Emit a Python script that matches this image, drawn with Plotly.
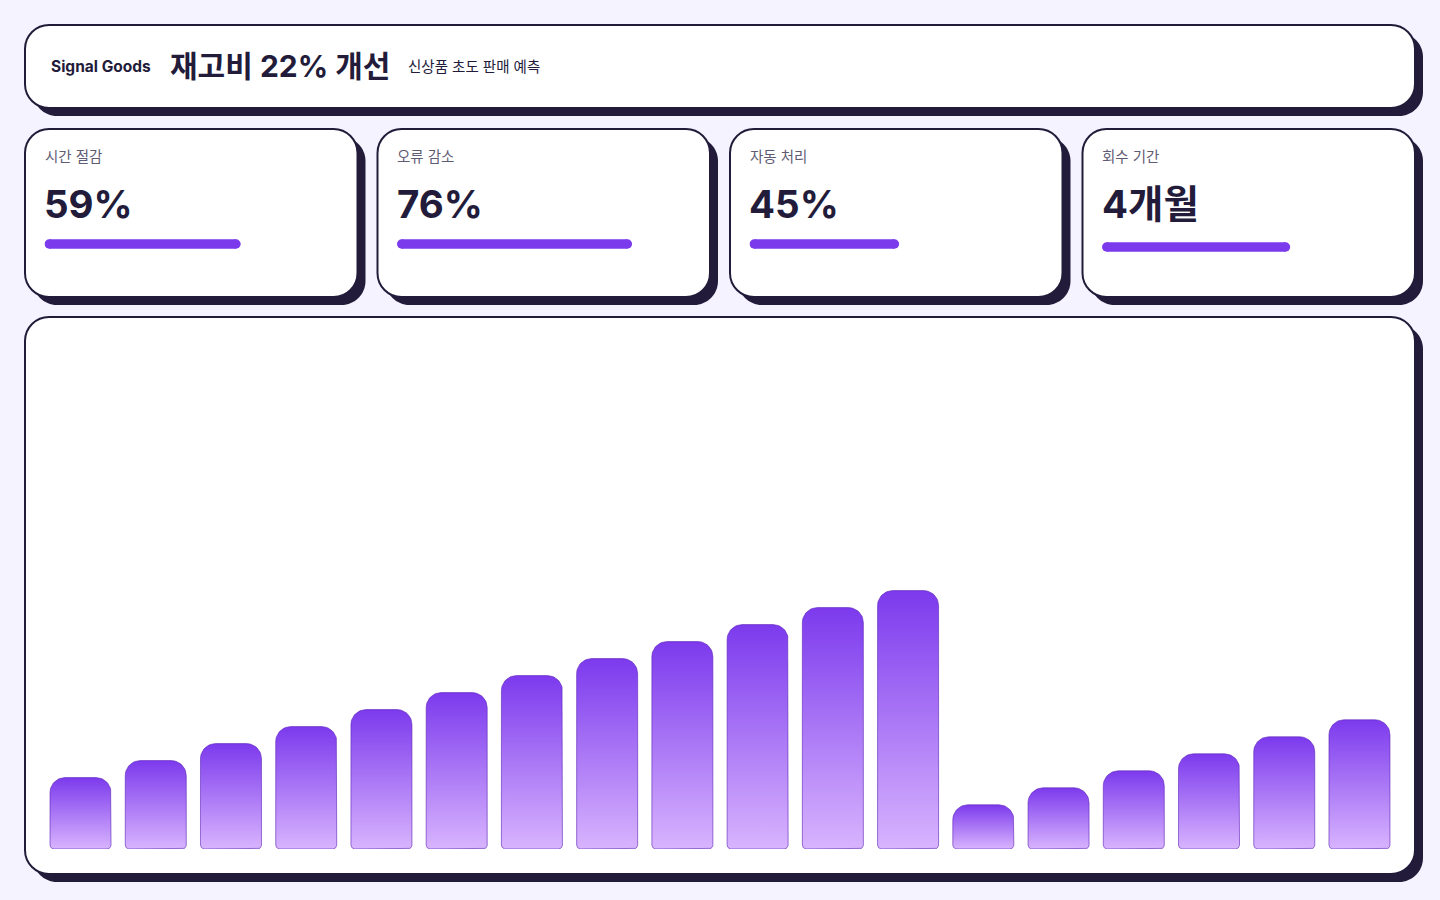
import math
import plotly.graph_objects as go

# ---------------- data ----------------
brand = "Signal Goods"
headline = "재고비 22% 개선"
subtitle = "신상품 초도 판매 예측"

kpi_labels = ["시간 절감", "오류 감소", "자동 처리", "회수 기간"]
kpi_values = ["59%", "76%", "45%", "4개월"]
kpi_progress = [0.59, 0.707, 0.45, 0.566]   # share of card width filled by the progress bar

periods = [f"W{i}" for i in range(1, 19)]
sales = [42, 52, 62, 72, 82, 92, 102, 112, 122, 132, 142, 152, 26, 36, 46, 56, 66, 76]

# ---------------- style / layout constants ----------------
W, H = 1440, 900
BG = "#f5f3ff"
INK = "#221c3a"
MUTED = "#5f5b73"
VIOLET = "#7c3aed"
LILAC = "#d8b4fe"
FONT = "Inter, 'Noto Sans CJK KR', 'Noto Sans', sans-serif"


def X(px):
    return px / W


def Y(py):
    return 1 - py / H


def rrect_path(x0, y0, x1, y1, r):
    k = 0.5523 * r
    P = lambda x, y: f"{X(x):.6f},{Y(y):.6f}"
    return (
        f"M{P(x0 + r, y0)} L{P(x1 - r, y0)} "
        f"C{P(x1 - r + k, y0)} {P(x1, y0 + r - k)} {P(x1, y0 + r)} "
        f"L{P(x1, y1 - r)} "
        f"C{P(x1, y1 - r + k)} {P(x1 - r + k, y1)} {P(x1 - r, y1)} "
        f"L{P(x0 + r, y1)} "
        f"C{P(x0 + r - k, y1)} {P(x0, y1 - r + k)} {P(x0, y1 - r)} "
        f"L{P(x0, y0 + r)} "
        f"C{P(x0, y0 + r - k)} {P(x0 + r - k, y0)} {P(x0 + r, y0)} Z"
    )


shapes = []


def card(x0, y0, x1, y1, r=24, off=8):
    shapes.append(dict(type="path", xref="paper", yref="paper", layer="below",
                       path=rrect_path(x0 + off, y0 + off, x1 + off, y1 + off, r),
                       fillcolor=INK, line=dict(width=0)))
    shapes.append(dict(type="path", xref="paper", yref="paper", layer="below",
                       path=rrect_path(x0, y0, x1, y1, r),
                       fillcolor="#ffffff", line=dict(width=2, color=INK)))


# header card
card(25, 25, 1415, 108)
# KPI cards
CARD_W = 332.5
kpi_x0 = [25 + i * 352.5 for i in range(4)]
for x0 in kpi_x0:
    card(x0, 129, x0 + CARD_W, 297)
# chart card
card(25, 317, 1415, 874)

fig = go.Figure()

# ---------------- main bar chart (gradient, rounded bars) ----------------
PLOT_L, PLOT_R = 42.9, 1397.1
PLOT_B, PLOT_T = 849, 339
Y_MAX = 300
PX_X = (PLOT_R - PLOT_L) / len(sales)
PX_Y = (PLOT_B - PLOT_T) / Y_MAX


def bar_outline(i, v, half_w_px=30.5, r_top=15, r_bot=4, n=14):
    hw = half_w_px / PX_X
    rt = min(r_top, v * PX_Y / 2)
    rtx, rty = rt / PX_X, rt / PX_Y
    rbx, rby = r_bot / PX_X, r_bot / PX_Y
    xs, ys = [], []

    def arc(cx, cy, rx, ry, a0, a1):
        for t in range(n + 1):
            a = a0 + (a1 - a0) * t / n
            xs.append(cx + rx * math.cos(a))
            ys.append(cy + ry * math.sin(a))

    L, R = i - hw, i + hw
    arc(L + rbx, rby, rbx, rby, math.pi, 1.5 * math.pi)
    arc(R - rbx, rby, rbx, rby, 1.5 * math.pi, 2 * math.pi)
    arc(R - rtx, v - rty, rtx, rty, 0, 0.5 * math.pi)
    arc(L + rtx, v - rty, rtx, rty, 0.5 * math.pi, math.pi)
    xs.append(xs[0])
    ys.append(ys[0])
    return xs, ys


for i, (p, v) in enumerate(zip(periods, sales)):
    xs, ys = bar_outline(i, v)
    fig.add_trace(go.Scatter(
        x=xs, y=ys, mode="lines", fill="toself", name=p,
        line=dict(color="rgba(91,33,182,0.6)", width=1),
        fillgradient=dict(type="vertical", colorscale=[[0, LILAC], [1, VIOLET]]),
        hoverinfo="skip", showlegend=False,
        xaxis="x", yaxis="y",
    ))

# ---------------- KPI progress bars ----------------
BAR_H = 9.5
kpi_cy = [244, 244, 244, 247]
axes_layout = {}
for k, (x0, f, cy) in enumerate(zip(kpi_x0, kpi_progress, kpi_cy)):
    ax = k + 2
    L = x0 + 19.5
    rr = (BAR_H / 2) / CARD_W
    fig.add_trace(go.Scatter(
        x=[rr, f - rr], y=[0, 0], mode="lines+markers",
        line=dict(color=VIOLET, width=BAR_H),
        marker=dict(color=VIOLET, size=BAR_H, line=dict(width=0)),
        hoverinfo="skip", showlegend=False,
        xaxis=f"x{ax}", yaxis=f"y{ax}",
    ))
    axes_layout[f"xaxis{ax}"] = dict(domain=[X(L), X(L + CARD_W)], range=[0, 1],
                                     visible=False, fixedrange=True, anchor=f"y{ax}")
    axes_layout[f"yaxis{ax}"] = dict(domain=[Y(cy + 12), Y(cy - 12)], range=[-1, 1],
                                     visible=False, fixedrange=True, anchor=f"x{ax}")

# ---------------- text ----------------
annotations = []


def text(x, y, s, size, color=INK, weight=400):
    annotations.append(dict(x=X(x), y=Y(y), xref="paper", yref="paper", text=s,
                            showarrow=False, xanchor="left", yanchor="middle",
                            font=dict(family=FONT, size=size, color=color, weight=weight)))


text(49, 67, brand, 15.5, INK, 700)
text(168, 66, headline, 30, INK, 700)
text(406, 66, subtitle, 14.5, INK, 400)
for x0, lab, val in zip(kpi_x0, kpi_labels, kpi_values):
    text(x0 + 17.5, 157, lab, 14.5, MUTED, 400)
    text(x0 + 17, 204, val, 38.5, INK, 700)

fig.update_layout(
    width=W, height=H,
    margin=dict(l=0, r=0, t=0, b=0),
    paper_bgcolor=BG, plot_bgcolor="rgba(0,0,0,0)",
    shapes=shapes, annotations=annotations,
    xaxis=dict(domain=[X(PLOT_L), X(PLOT_R)], range=[-0.5, len(sales) - 0.5],
               visible=False, fixedrange=True),
    yaxis=dict(domain=[Y(PLOT_B), Y(PLOT_T)], range=[0, Y_MAX],
               visible=False, fixedrange=True),
    showlegend=False,
    font=dict(family=FONT),
    **axes_layout,
)

fig.write_html(
    "out.html",
    config={"displayModeBar": False, "staticPlot": False},
    post_script="document.body.style.margin='0';document.body.style.overflow='hidden';",
)
